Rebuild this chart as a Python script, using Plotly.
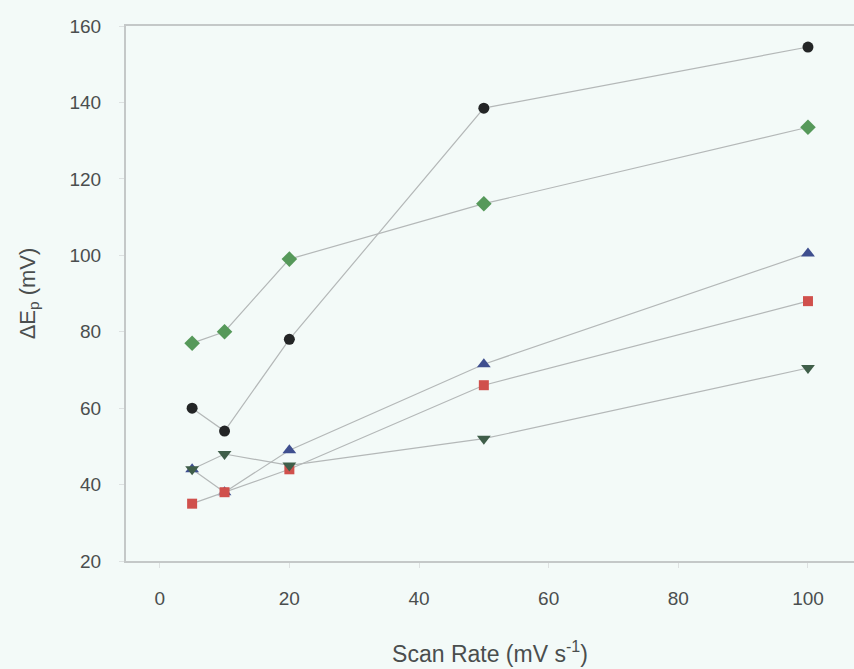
import plotly.graph_objects as go

scan_rate = [5, 10, 20, 50, 100]
s_circle = [60, 54, 78, 138.5, 154.5]
s_diamond = [77, 80, 99, 113.5, 133.5]
s_tri_up = [44, 38, 49, 71.5, 100.5]
s_square = [35, 38, 44, 66, 88]
s_tri_down = [44, 48, 45, 52, 70.5]

x_ticks = [0, 20, 40, 60, 80, 100]
y_ticks = [20, 40, 60, 80, 100, 120, 140, 160]

series = [
    (s_circle, "circle", "#232526", 11),
    (s_diamond, "diamond", "#56995a", 12),
    (s_tri_up, "triangle-up", "#3f4f8f", 12),
    (s_square, "square", "#d0504c", 10),
    (s_tri_down, "triangle-down", "#3f5e49", 12),
]

fig = go.Figure()
for ys, sym, col, sz in series:
    fig.add_trace(go.Scatter(
        x=scan_rate, y=ys, mode="lines+markers",
        line=dict(color="#b4b8b8", width=1.2),
        marker=dict(symbol=sym, color=col, size=sz, line=dict(width=0)),
        showlegend=False,
    ))

bg = "#f3faf8"
fig.update_layout(
    width=854, height=669,
    margin=dict(l=126, r=0, t=26, b=108),
    paper_bgcolor=bg, plot_bgcolor=bg,
    font=dict(family="Liberation Sans, Arial, sans-serif", color="#4a4e4e", size=19),
    showlegend=False,
)
fig.update_xaxes(
    range=[-5.2, 107.1], tickvals=x_ticks, showgrid=False, zeroline=False,
    showline=True, linecolor="#c4c8c8", linewidth=2, mirror=True,
    ticks="outside", ticklen=5, tickcolor="#dde1e1", tickwidth=1,
    ticklabelstandoff=14, automargin=False,
    title=dict(text="Scan Rate (mV s<sup>-1</sup>)", font=dict(size=23), standoff=38),
)
fig.update_yaxes(
    range=[20, 160], tickvals=y_ticks, showgrid=False, zeroline=False,
    showline=True, linecolor="#c4c8c8", linewidth=2, mirror=False,
    ticks="outside", ticklen=5, tickcolor="#dde1e1", tickwidth=1,
    ticklabelstandoff=14, automargin=False,
    title=dict(text="ΔE<sub>p</sub> (mV)", font=dict(size=22), standoff=28),
)
fig.write_html("out.html")
